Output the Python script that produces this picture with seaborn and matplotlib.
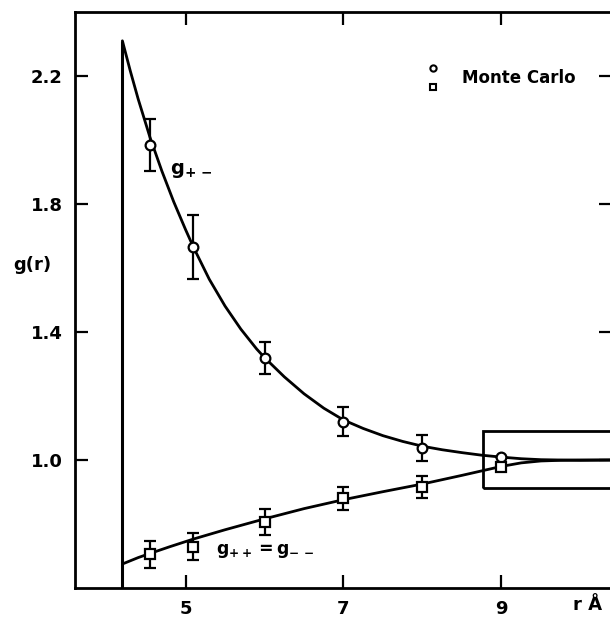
import matplotlib
matplotlib.use("Agg")
import matplotlib.pyplot as plt
import seaborn as sns
import pandas as pd
from matplotlib.legend_handler import HandlerBase
from matplotlib.lines import Line2D
from matplotlib.patches import Rectangle

# Theoretical g_{+-}(r) (solid curve)
r_pm = [4.2, 4.3, 4.4, 4.55, 4.7, 4.85, 5.0, 5.1, 5.3, 5.5, 5.7, 5.9, 6.0,
        6.25, 6.5, 6.75, 7.0, 7.25, 7.5, 7.75, 8.0, 8.25, 8.5, 8.75, 9.0,
        9.25, 9.5, 10.0, 10.4]
g_pm_curve = [2.31, 2.216, 2.128, 2.008, 1.903, 1.807, 1.72, 1.665, 1.565,
              1.481, 1.409, 1.347, 1.32, 1.26, 1.207, 1.162, 1.125, 1.0985,
              1.076, 1.058, 1.043, 1.032, 1.023, 1.015, 1.009, 1.004, 1.001,
              0.999, 1.0]

# Theoretical g_{++}(r) = g_{--}(r) (solid curve)
r_pp = [4.2, 4.4, 4.55, 4.8, 5.1, 5.5, 6.0, 6.5, 7.0, 7.5, 8.0, 8.5, 8.75,
        9.0, 9.25, 9.5, 9.75, 10.0, 10.4]
g_pp_curve = [0.675, 0.695, 0.708, 0.729, 0.753, 0.782, 0.816, 0.848, 0.876,
              0.901, 0.925, 0.952, 0.966, 0.980, 0.991, 0.997, 0.999, 1.0, 1.0]

# Monte Carlo results with error bars
r_mc = [4.55, 5.1, 6.0, 7.0, 8.0, 9.0]
g_pm_mc = [1.985, 1.667, 1.32, 1.12, 1.037, 1.01]
g_pm_err = [0.081, 0.10, 0.05, 0.045, 0.04, 0.0]
g_pp_mc = [0.705, 0.729, 0.806, 0.88, 0.915, 0.977]
g_pp_err = [0.043, 0.042, 0.04, 0.037, 0.035, 0.0]

r_contact = 4.2
x_ticks = [5, 7, 9]
y_ticks = [1.0, 1.4, 1.8, 2.2]
y_tick_labels = ["1.0", "1.4", "1.8", "2.2"]

sns.set_theme(style="ticks")
plt.rcParams["font.family"] = ["DejaVu Sans"]
plt.rcParams["font.weight"] = "bold"
plt.rcParams["text.color"] = "black"
plt.rcParams["mathtext.fontset"] = "dejavusans"

fig = plt.figure(figsize=(6.1, 6.2), dpi=100)
ax = fig.add_axes([75 / 610, 32 / 620, 537 / 610, 576 / 620])

pm = pd.DataFrame({"r": r_pm, "g": g_pm_curve})
pp = pd.DataFrame({"r": r_pp, "g": g_pp_curve})
sns.lineplot(data=pm, x="r", y="g", ax=ax, color="black", lw=2.0,
             sort=False, estimator=None, zorder=2)
sns.lineplot(data=pp, x="r", y="g", ax=ax, color="black", lw=2.0,
             sort=False, estimator=None, zorder=2)

# hard-core contact wall
ax.vlines(r_contact, 0.6, g_pm_curve[0], color="black", lw=2.2, zorder=2)

err_kw = dict(ecolor="black", elinewidth=1.6, capsize=4.5, capthick=1.6,
              mfc="white", mec="black", mew=1.6, ms=7, ls="none", zorder=4)
ax.errorbar(r_mc, g_pm_mc, yerr=g_pm_err, fmt="o", **err_kw)
ax.errorbar(r_mc, g_pp_mc, yerr=g_pp_err, fmt="s", **{**err_kw, "ms": 6.5})

# box around the asymptotic region
ax.add_patch(Rectangle((8.77, 0.912), 2.0, 0.178, fill=False,
                       ec="black", lw=2.0, zorder=3))

ax.set_xlim(3.6, 10.4)
ax.set_ylim(0.6, 2.4)
ax.set_xticks(x_ticks)
ax.set_xticklabels([str(t) for t in x_ticks])
ax.set_yticks(y_ticks)
ax.set_yticklabels(y_tick_labels)
ax.set_xlabel("")
ax.set_ylabel("")
ax.tick_params(direction="in", length=9.5, width=1.6, top=True, right=True,
               labelsize=13, pad=9, colors="black")
for side in ["left", "bottom", "top"]:
    ax.spines[side].set_linewidth(2.0)
    ax.spines[side].set_color("black")
ax.spines["right"].set_visible(False)

ax.text(-0.08, 0.561, "g(r)", transform=ax.transAxes, ha="center",
        va="center", fontsize=13, fontweight="bold", color="black")
ax.text(4.8, 1.905, r"$\mathbf{g}_{\mathbf{+\,-}}$", ha="left", va="center",
        fontsize=14, color="black")
ax.text(5.39, 0.717,
        r"$\mathbf{g}_{\mathbf{++}}{\mathbf{=}}\mathbf{g}_{\mathbf{-\,-}}$",
        ha="left", va="center", fontsize=12.5, color="black")
ax.text(9.9, -0.03, "r Å", transform=ax.get_xaxis_transform(), ha="left",
        va="center", fontsize=13, fontweight="bold", color="black")


class StackedMarkers(HandlerBase):
    def create_artists(self, legend, orig_handle, xdescent, ydescent,
                       width, height, fontsize, trans):
        cx = width / 2 - xdescent
        cy = height / 2 - ydescent
        top = Line2D([cx], [cy + 7], marker="o", ms=4.5, mfc="white",
                     mec="black", mew=1.5, ls="none")
        bottom = Line2D([cx], [cy - 7], marker="s", ms=4.5, mfc="white",
                        mec="black", mew=1.5, ls="none")
        for a in (top, bottom):
            a.set_transform(trans)
        return [top, bottom]


mc_handle = (Line2D([], [], marker="o"), Line2D([], [], marker="s"))
leg = ax.legend([mc_handle], ["Monte Carlo"],
                handler_map={tuple: StackedMarkers()},
                loc="center left", bbox_to_anchor=(0.652, 0.885),
                frameon=False, borderpad=0, borderaxespad=0,
                handlelength=1.0, handletextpad=1.2,
                prop={"size": 12, "weight": "bold"})
for t in leg.get_texts():
    t.set_color("black")

fig.savefig("out.png", dpi=100)
